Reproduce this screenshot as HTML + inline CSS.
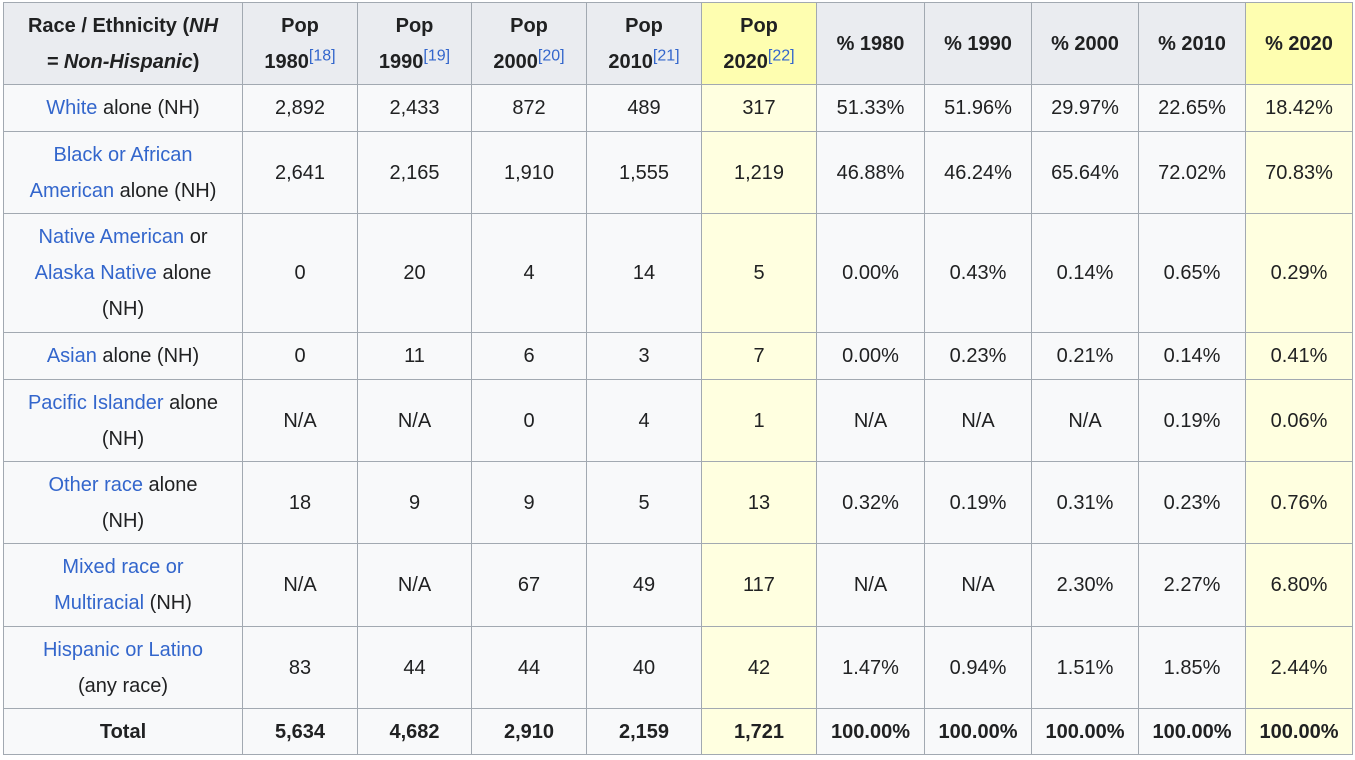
<!DOCTYPE html>
<html><head><meta charset="utf-8"><style>
body{margin:0;background:#fff;}
table{position:absolute;left:3px;top:2px;border-collapse:collapse;table-layout:fixed;font-family:"Liberation Sans",Arial,sans-serif;font-size:20px;color:#202122;line-height:36px;background:#f8f9fa;}
td,th{border:1px solid #a2a9b1;text-align:center;padding:0 4px;vertical-align:middle;white-space:nowrap;}
th{background:#eaecf0;font-weight:bold;}
th.y{background:#fefeb0;}
td.y{background:#ffffe0;}
a{color:#3366cc;text-decoration:none;}
sup{font-size:16px;line-height:0;font-weight:normal;vertical-align:super;}
sup a{color:#3366cc}
.b td{font-weight:bold;}
</style></head><body>
<table>
<colgroup><col style="width:239px"><col style="width:115px"><col style="width:114px"><col style="width:115px"><col style="width:115px"><col style="width:115px"><col style="width:108px"><col style="width:107px"><col style="width:107px"><col style="width:107px"><col style="width:107px"></colgroup>
<tr style="height:82px"><th>Race / Ethnicity (<i>NH</i><br><i>= Non-Hispanic</i>)</th><th>Pop<br>1980<sup><a>[18]</a></sup></th><th>Pop<br>1990<sup><a>[19]</a></sup></th><th>Pop<br>2000<sup><a>[20]</a></sup></th><th>Pop<br>2010<sup><a>[21]</a></sup></th><th class="y">Pop<br>2020<sup><a>[22]</a></sup></th><th>% 1980</th><th>% 1990</th><th>% 2000</th><th>% 2010</th><th class="y">% 2020</th></tr>
<tr style="height:47px"><td><a>White</a> alone (NH)</td><td>2,892</td><td>2,433</td><td>872</td><td>489</td><td class="y">317</td><td>51.33%</td><td>51.96%</td><td>29.97%</td><td>22.65%</td><td class="y">18.42%</td></tr>
<tr style="height:82px"><td><a>Black or African</a><br><a>American</a> alone (NH)</td><td>2,641</td><td>2,165</td><td>1,910</td><td>1,555</td><td class="y">1,219</td><td>46.88%</td><td>46.24%</td><td>65.64%</td><td>72.02%</td><td class="y">70.83%</td></tr>
<tr style="height:119px"><td><a>Native American</a> or<br><a>Alaska Native</a> alone<br>(NH)</td><td>0</td><td>20</td><td>4</td><td>14</td><td class="y">5</td><td>0.00%</td><td>0.43%</td><td>0.14%</td><td>0.65%</td><td class="y">0.29%</td></tr>
<tr style="height:47px"><td><a>Asian</a> alone (NH)</td><td>0</td><td>11</td><td>6</td><td>3</td><td class="y">7</td><td>0.00%</td><td>0.23%</td><td>0.21%</td><td>0.14%</td><td class="y">0.41%</td></tr>
<tr style="height:82px"><td><a>Pacific Islander</a> alone<br>(NH)</td><td>N/A</td><td>N/A</td><td>0</td><td>4</td><td class="y">1</td><td>N/A</td><td>N/A</td><td>N/A</td><td>0.19%</td><td class="y">0.06%</td></tr>
<tr style="height:82px"><td><a>Other race</a> alone<br>(NH)</td><td>18</td><td>9</td><td>9</td><td>5</td><td class="y">13</td><td>0.32%</td><td>0.19%</td><td>0.31%</td><td>0.23%</td><td class="y">0.76%</td></tr>
<tr style="height:83px"><td><a>Mixed race or</a><br><a>Multiracial</a> (NH)</td><td>N/A</td><td>N/A</td><td>67</td><td>49</td><td class="y">117</td><td>N/A</td><td>N/A</td><td>2.30%</td><td>2.27%</td><td class="y">6.80%</td></tr>
<tr style="height:82px"><td><a>Hispanic or Latino</a><br>(any race)</td><td>83</td><td>44</td><td>44</td><td>40</td><td class="y">42</td><td>1.47%</td><td>0.94%</td><td>1.51%</td><td>1.85%</td><td class="y">2.44%</td></tr>
<tr class="b" style="height:46px"><td>Total</td><td>5,634</td><td>4,682</td><td>2,910</td><td>2,159</td><td class="y">1,721</td><td>100.00%</td><td>100.00%</td><td>100.00%</td><td>100.00%</td><td class="y">100.00%</td></tr>
</table>
</body></html>
